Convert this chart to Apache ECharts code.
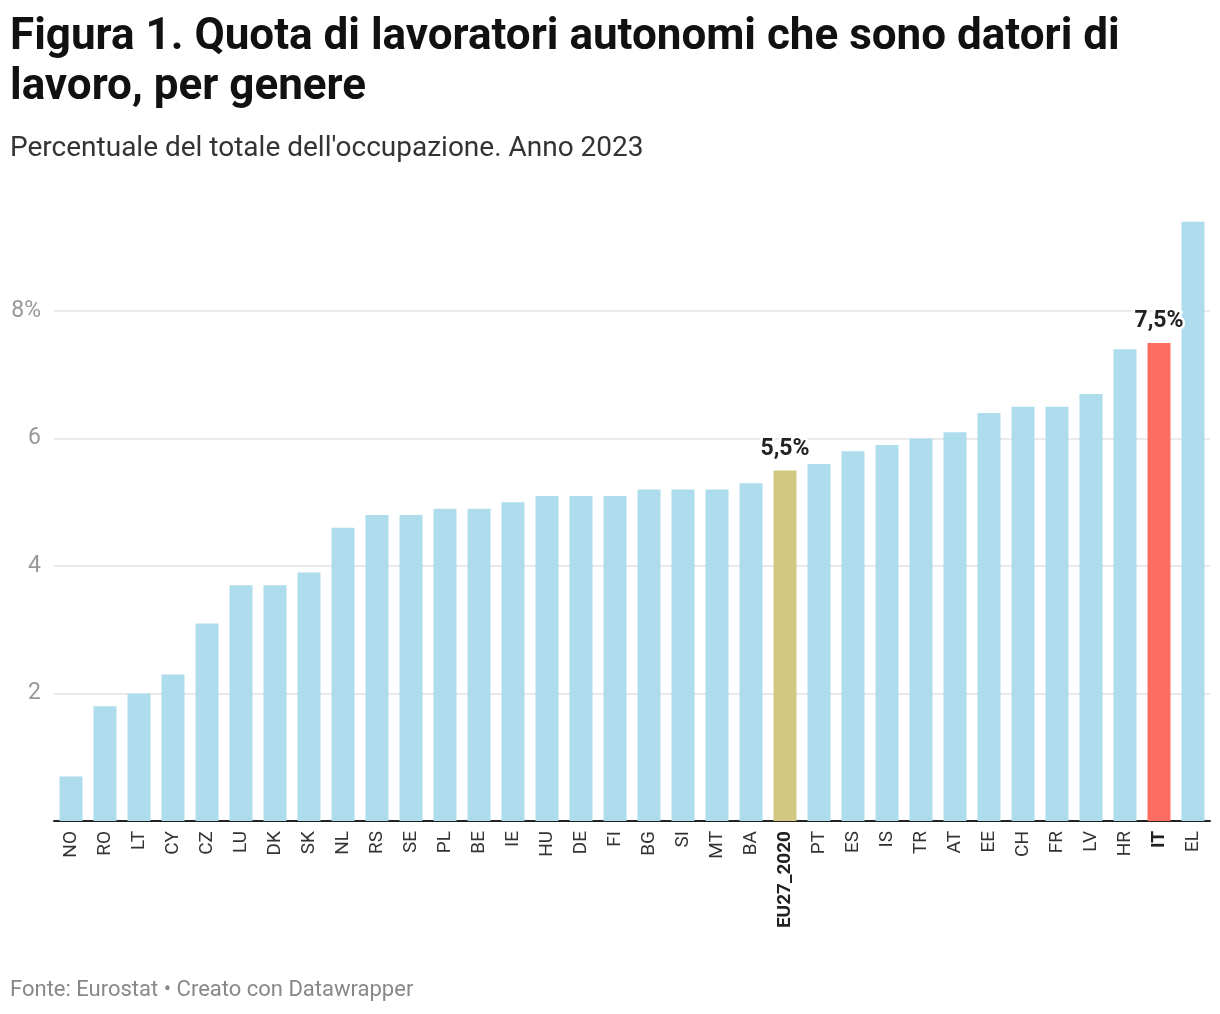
<!DOCTYPE html>
<html>
<head>
<meta charset="utf-8">
<script src="https://cdn.jsdelivr.net/npm/echarts@6/dist/echarts.min.js"></script>
<style>
html,body{margin:0;padding:0;background:#fff;}
#chart{width:1220px;height:1014px;}
</style>
</head>
<body>
<div id="chart"></div>
<script>
const titleText = "Figura 1. Quota di lavoratori autonomi che sono datori di\nlavoro, per genere";
const subtitleText = "Percentuale del totale dell'occupazione. Anno 2023";
const sourceText = "Fonte: Eurostat \u2022 Creato con Datawrapper";

const categories = ["NO","RO","LT","CY","CZ","LU","DK","SK","NL","RS","SE","PL","BE","IE","HU","DE","FI","BG","SI","MT","BA","EU27_2020","PT","ES","IS","TR","AT","EE","CH","FR","LV","HR","IT","EL"];
const values = [0.7,1.8,2.0,2.3,3.1,3.7,3.7,3.9,4.6,4.8,4.8,4.9,4.9,5.0,5.1,5.1,5.1,5.2,5.2,5.2,5.3,5.5,5.6,5.8,5.9,6.0,6.1,6.4,6.5,6.5,6.7,7.4,7.5,9.4];
const highlighted = {"EU27_2020": "#d2c882", "IT": "#ff6c62"};
const labelled = ["EU27_2020", "IT"];
const yTicks = [0, 2, 4, 6, 8, 10];

const baseColor = "#addcec";

const seriesData = values.map((v, i) => {
  const c = categories[i];
  const item = { value: v, itemStyle: { color: highlighted[c] || baseColor } };
  if (labelled.includes(c)) {
    item.label = {
      show: true,
      position: 'top',
      distance: 10,
      formatter: (p) => String(p.value).replace('.', ',') + '%',
      fontFamily: 'Roboto',
      fontWeight: 'bold',
      fontSize: 23,
      color: '#222',
      textBorderColor: '#fff',
      textBorderWidth: 5
    };
  }
  return item;
});

const chart = echarts.init(document.getElementById('chart'), null, { renderer: 'canvas' });
chart.setOption({
  backgroundColor: '#fff',
  animation: false,
  title: [
    {
      text: titleText,
      left: 10, top: 13, padding: 0,
      textStyle: { fontFamily: 'Roboto', fontWeight: 'bold', fontSize: 44, lineHeight: 50, color: '#111' }
    },
    {
      text: subtitleText,
      left: 10, top: 135, padding: 0,
      textStyle: { fontFamily: 'Roboto', fontWeight: 'normal', fontSize: 28, color: '#333' }
    },
    {
      text: sourceText,
      left: 10, top: 979, padding: 0,
      textStyle: { fontFamily: 'Roboto', fontWeight: 'normal', fontSize: 22, color: '#888' }
    }
  ],
  grid: { left: 54, right: 10, top: 183.5, bottom: 193, containLabel: false },
  xAxis: {
    type: 'category',
    data: categories,
    axisLine: { show: true, lineStyle: { color: '#222', width: 2 } },
    axisTick: { show: false },
    axisLabel: {
      rotate: 90,
      interval: 0,
      margin: 10,
      fontFamily: 'Roboto',
      fontSize: 19,
      color: '#333',
      formatter: (v) => labelled.includes(v) ? '{b|' + v + '}' : v,
      rich: { b: { fontFamily: 'Roboto', fontSize: 19, fontWeight: 'bold', color: '#222' } }
    }
  },
  yAxis: {
    type: 'value',
    min: 0, max: 10, interval: 2,
    axisLine: { show: false },
    axisTick: { show: false },
    splitLine: { show: true, lineStyle: { color: ['transparent', '#e3e3e3', '#e3e3e3', '#e3e3e3', '#e3e3e3', 'transparent'], width: 1.5 } },
    axisLabel: {
      margin: 13,
      fontFamily: 'Roboto',
      fontSize: 23,
      color: '#999',
      formatter: (v) => (v === 0 || v === 10) ? '' : (v === 8 ? v + '%' : String(v))
    }
  },
  series: [{
    type: 'bar',
    data: seriesData,
    barWidth: 23,
    label: { show: false }
  }]
});
</script>
</body>
</html>
